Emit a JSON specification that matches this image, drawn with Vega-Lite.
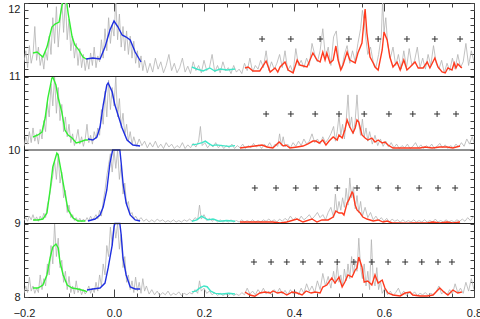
{
 "$schema": "https://vega.github.io/schema/vega-lite/v6.json",
 "width": 450, "height": 294,
 "autosize": {"type": "none"},
 "padding": {"left": 24, "top": 3, "right": 6, "bottom": 22},
 "background": "white",
 "config": {
  "view": {"stroke": "#222", "strokeWidth": 1},
  "axis": {"domain": false, "grid": false, "labelFont": "Liberation Sans", "labelFontSize": 11, "labelColor": "#222", "tickColor": "#444", "tickWidth": 1, "title": null, "labelOverlap": false}
 },
 "datasets": {
  "gray": [
{"p":1,"x":-0.2,"y":11.2},{"p":1,"x":-0.196,"y":11.35},{"p":1,"x":-0.192,"y":11.12},{"p":1,"x":-0.188,"y":11.42},{"p":1,"x":-0.184,"y":11.18},{"p":1,"x":-0.18,"y":11.3},{"p":1,"x":-0.176,"y":11.68},{"p":1,"x":-0.172,"y":11.22},{"p":1,"x":-0.168,"y":11.4},{"p":1,"x":-0.164,"y":11.15},{"p":1,"x":-0.16,"y":11.28},{"p":1,"x":-0.156,"y":11.1},{"p":1,"x":-0.152,"y":11.35},{"p":1,"x":-0.148,"y":11.22},{"p":1,"x":-0.144,"y":11.55},{"p":1,"x":-0.14,"y":11.3},{"p":1,"x":-0.136,"y":11.8},{"p":1,"x":-0.132,"y":11.45},{"p":1,"x":-0.128,"y":11.95},{"p":1,"x":-0.124,"y":11.4},{"p":1,"x":-0.12,"y":11.72},{"p":1,"x":-0.116,"y":12.05},{"p":1,"x":-0.112,"y":11.6},{"p":1,"x":-0.108,"y":12.05},{"p":1,"x":-0.104,"y":11.5},{"p":1,"x":-0.1,"y":11.78},{"p":1,"x":-0.096,"y":11.35},{"p":1,"x":-0.092,"y":11.55},{"p":1,"x":-0.088,"y":11.25},{"p":1,"x":-0.084,"y":11.45},{"p":1,"x":-0.08,"y":11.15},{"p":1,"x":-0.076,"y":11.38},{"p":1,"x":-0.072,"y":11.12},{"p":1,"x":-0.068,"y":11.3},{"p":1,"x":-0.064,"y":11.08},{"p":1,"x":-0.06,"y":11.25},{"p":1,"x":-0.056,"y":11.1},{"p":1,"x":-0.052,"y":11.32},{"p":1,"x":-0.048,"y":11.15},{"p":1,"x":-0.044,"y":11.4},{"p":1,"x":-0.04,"y":11.12},{"p":1,"x":-0.036,"y":11.28},{"p":1,"x":-0.032,"y":11.2},{"p":1,"x":-0.028,"y":11.5},{"p":1,"x":-0.024,"y":11.25},{"p":1,"x":-0.02,"y":11.65},{"p":1,"x":-0.016,"y":11.35},{"p":1,"x":-0.012,"y":11.8},{"p":1,"x":-0.008,"y":11.45},{"p":1,"x":-0.004,"y":11.7},{"p":1,"x":0,"y":11.55},{"p":1,"x":0.004,"y":12.05},{"p":1,"x":0.008,"y":11.5},{"p":1,"x":0.012,"y":11.85},{"p":1,"x":0.016,"y":11.4},{"p":1,"x":0.02,"y":11.68},{"p":1,"x":0.024,"y":11.35},{"p":1,"x":0.028,"y":11.62},{"p":1,"x":0.032,"y":11.3},{"p":1,"x":0.036,"y":11.55},{"p":1,"x":0.04,"y":11.25},{"p":1,"x":0.044,"y":11.48},{"p":1,"x":0.048,"y":11.18},{"p":1,"x":0.052,"y":11.35},{"p":1,"x":0.056,"y":11.12},{"p":1,"x":0.06,"y":11.28},{"p":1,"x":0.064,"y":11.08},{"p":1,"x":0.068,"y":11.22},{"p":1,"x":0.074,"y":11.05},{"p":1,"x":0.08,"y":11.18},{"p":1,"x":0.086,"y":11.06},{"p":1,"x":0.092,"y":11.25},{"p":1,"x":0.098,"y":11.1},{"p":1,"x":0.104,"y":11.2},{"p":1,"x":0.11,"y":11.05},{"p":1,"x":0.116,"y":11.15},{"p":1,"x":0.122,"y":11.3},{"p":1,"x":0.128,"y":11.08},{"p":1,"x":0.134,"y":11.18},{"p":1,"x":0.14,"y":11.05},{"p":1,"x":0.146,"y":11.12},{"p":1,"x":0.152,"y":11.25},{"p":1,"x":0.158,"y":11.06},{"p":1,"x":0.164,"y":11.14},{"p":1,"x":0.17,"y":11.04},{"p":1,"x":0.176,"y":11.2},{"p":1,"x":0.182,"y":11.08},{"p":1,"x":0.188,"y":11.15},{"p":1,"x":0.194,"y":11.05},{"p":1,"x":0.2,"y":11.22},{"p":1,"x":0.206,"y":11.08},{"p":1,"x":0.212,"y":11.12},{"p":1,"x":0.218,"y":11.3},{"p":1,"x":0.224,"y":11.06},{"p":1,"x":0.23,"y":11.15},{"p":1,"x":0.236,"y":11.05},{"p":1,"x":0.242,"y":11.2},{"p":1,"x":0.248,"y":11.08},{"p":1,"x":0.254,"y":11.12},{"p":1,"x":0.26,"y":11.04},{"p":1,"x":0.266,"y":11.15},{"p":1,"x":0.272,"y":11.06},{"p":1,"x":0.278,"y":11.1},{"p":1,"x":0.284,"y":11.04},{"p":1,"x":0.29,"y":11.18},{"p":1,"x":0.296,"y":11.08},{"p":1,"x":0.302,"y":11.25},{"p":1,"x":0.308,"y":11.06},{"p":1,"x":0.314,"y":11.15},{"p":1,"x":0.32,"y":11.1},{"p":1,"x":0.326,"y":11.22},{"p":1,"x":0.332,"y":11.12},{"p":1,"x":0.338,"y":11.35},{"p":1,"x":0.344,"y":11.08},{"p":1,"x":0.35,"y":11.2},{"p":1,"x":0.356,"y":11.1},{"p":1,"x":0.362,"y":11.18},{"p":1,"x":0.368,"y":11.3},{"p":1,"x":0.374,"y":11.12},{"p":1,"x":0.38,"y":11.35},{"p":1,"x":0.386,"y":11.08},{"p":1,"x":0.392,"y":11.15},{"p":1,"x":0.398,"y":11.05},{"p":1,"x":0.404,"y":11.38},{"p":1,"x":0.41,"y":11.15},{"p":1,"x":0.416,"y":11.22},{"p":1,"x":0.422,"y":11.12},{"p":1,"x":0.428,"y":11.25},{"p":1,"x":0.434,"y":11.15},{"p":1,"x":0.44,"y":11.45},{"p":1,"x":0.446,"y":11.3},{"p":1,"x":0.452,"y":11.2},{"p":1,"x":0.458,"y":11.35},{"p":1,"x":0.464,"y":11.65},{"p":1,"x":0.47,"y":11.25},{"p":1,"x":0.476,"y":11.4},{"p":1,"x":0.482,"y":11.15},{"p":1,"x":0.488,"y":11.54},{"p":1,"x":0.494,"y":11.62},{"p":1,"x":0.5,"y":11.2},{"p":1,"x":0.506,"y":11.1},{"p":1,"x":0.512,"y":11.3},{"p":1,"x":0.518,"y":11.42},{"p":1,"x":0.524,"y":11.18},{"p":1,"x":0.53,"y":11.35},{"p":1,"x":0.536,"y":11.2},{"p":1,"x":0.542,"y":11.45},{"p":1,"x":0.548,"y":11.65},{"p":1,"x":0.552,"y":11.9},{"p":1,"x":0.556,"y":11.75},{"p":1,"x":0.56,"y":11.5},{"p":1,"x":0.564,"y":11.3},{"p":1,"x":0.57,"y":11.4},{"p":1,"x":0.576,"y":11.2},{"p":1,"x":0.582,"y":11.12},{"p":1,"x":0.588,"y":11.3},{"p":1,"x":0.594,"y":11.55},{"p":1,"x":0.597,"y":12.05},{"p":1,"x":0.6,"y":11.6},{"p":1,"x":0.604,"y":11.8},{"p":1,"x":0.608,"y":11.45},{"p":1,"x":0.614,"y":11.25},{"p":1,"x":0.62,"y":11.4},{"p":1,"x":0.626,"y":11.15},{"p":1,"x":0.632,"y":11.3},{"p":1,"x":0.638,"y":11.1},{"p":1,"x":0.644,"y":11.35},{"p":1,"x":0.65,"y":11.12},{"p":1,"x":0.656,"y":11.38},{"p":1,"x":0.662,"y":11.15},{"p":1,"x":0.668,"y":11.22},{"p":1,"x":0.674,"y":11.4},{"p":1,"x":0.68,"y":11.12},{"p":1,"x":0.686,"y":11.25},{"p":1,"x":0.692,"y":11.1},{"p":1,"x":0.698,"y":11.3},{"p":1,"x":0.704,"y":11.15},{"p":1,"x":0.71,"y":11.42},{"p":1,"x":0.716,"y":11.18},{"p":1,"x":0.722,"y":11.1},{"p":1,"x":0.728,"y":11.22},{"p":1,"x":0.734,"y":11.05},{"p":1,"x":0.74,"y":11.18},{"p":1,"x":0.746,"y":11.08},{"p":1,"x":0.752,"y":11.25},{"p":1,"x":0.758,"y":11.1},{"p":1,"x":0.764,"y":11.3},{"p":1,"x":0.77,"y":11.12},{"p":1,"x":0.776,"y":11.2},{"p":1,"x":0.782,"y":11.45},{"p":1,"x":0.788,"y":11.15},{"p":1,"x":0.794,"y":11.35},{"p":1,"x":0.8,"y":11.2},

{"p":2,"x":-0.2,"y":10.05},{"p":2,"x":-0.196,"y":10.18},{"p":2,"x":-0.192,"y":10.08},{"p":2,"x":-0.188,"y":10.25},{"p":2,"x":-0.184,"y":10.1},{"p":2,"x":-0.18,"y":10.3},{"p":2,"x":-0.176,"y":10.12},{"p":2,"x":-0.172,"y":10.22},{"p":2,"x":-0.168,"y":10.08},{"p":2,"x":-0.164,"y":10.28},{"p":2,"x":-0.16,"y":10.15},{"p":2,"x":-0.156,"y":10.4},{"p":2,"x":-0.152,"y":10.25},{"p":2,"x":-0.148,"y":10.65},{"p":2,"x":-0.144,"y":10.45},{"p":2,"x":-0.14,"y":10.9},{"p":2,"x":-0.136,"y":10.6},{"p":2,"x":-0.132,"y":11.0},{"p":2,"x":-0.128,"y":10.5},{"p":2,"x":-0.124,"y":10.85},{"p":2,"x":-0.12,"y":10.4},{"p":2,"x":-0.116,"y":10.62},{"p":2,"x":-0.112,"y":10.25},{"p":2,"x":-0.108,"y":10.45},{"p":2,"x":-0.104,"y":10.18},{"p":2,"x":-0.1,"y":10.35},{"p":2,"x":-0.096,"y":10.1},{"p":2,"x":-0.092,"y":10.22},{"p":2,"x":-0.088,"y":10.06},{"p":2,"x":-0.084,"y":10.15},{"p":2,"x":-0.08,"y":10.28},{"p":2,"x":-0.076,"y":10.08},{"p":2,"x":-0.072,"y":10.18},{"p":2,"x":-0.068,"y":10.05},{"p":2,"x":-0.064,"y":10.15},{"p":2,"x":-0.06,"y":10.35},{"p":2,"x":-0.056,"y":10.1},{"p":2,"x":-0.052,"y":10.2},{"p":2,"x":-0.048,"y":10.08},{"p":2,"x":-0.044,"y":10.25},{"p":2,"x":-0.04,"y":10.15},{"p":2,"x":-0.036,"y":10.3},{"p":2,"x":-0.032,"y":10.2},{"p":2,"x":-0.028,"y":10.55},{"p":2,"x":-0.024,"y":10.35},{"p":2,"x":-0.02,"y":10.8},{"p":2,"x":-0.016,"y":10.45},{"p":2,"x":-0.012,"y":10.95},{"p":2,"x":-0.008,"y":10.55},{"p":2,"x":-0.004,"y":10.85},{"p":2,"x":0,"y":10.6},{"p":2,"x":0.004,"y":11.0},{"p":2,"x":0.008,"y":10.45},{"p":2,"x":0.012,"y":10.7},{"p":2,"x":0.016,"y":10.3},{"p":2,"x":0.02,"y":10.5},{"p":2,"x":0.024,"y":10.2},{"p":2,"x":0.028,"y":10.35},{"p":2,"x":0.032,"y":10.12},{"p":2,"x":0.036,"y":10.25},{"p":2,"x":0.04,"y":10.08},{"p":2,"x":0.044,"y":10.18},{"p":2,"x":0.05,"y":10.05},{"p":2,"x":0.056,"y":10.15},{"p":2,"x":0.062,"y":10.06},{"p":2,"x":0.068,"y":10.12},{"p":2,"x":0.074,"y":10.03},{"p":2,"x":0.08,"y":10.1},{"p":2,"x":0.086,"y":10.04},{"p":2,"x":0.092,"y":10.12},{"p":2,"x":0.098,"y":10.03},{"p":2,"x":0.104,"y":10.08},{"p":2,"x":0.11,"y":10.02},{"p":2,"x":0.116,"y":10.1},{"p":2,"x":0.122,"y":10.04},{"p":2,"x":0.128,"y":10.08},{"p":2,"x":0.134,"y":10.02},{"p":2,"x":0.14,"y":10.06},{"p":2,"x":0.146,"y":10.03},{"p":2,"x":0.152,"y":10.1},{"p":2,"x":0.158,"y":10.02},{"p":2,"x":0.164,"y":10.07},{"p":2,"x":0.17,"y":10.03},{"p":2,"x":0.176,"y":10.09},{"p":2,"x":0.182,"y":10.04},{"p":2,"x":0.188,"y":10.12},{"p":2,"x":0.192,"y":10.32},{"p":2,"x":0.196,"y":10.06},{"p":2,"x":0.202,"y":10.1},{"p":2,"x":0.208,"y":10.03},{"p":2,"x":0.214,"y":10.08},{"p":2,"x":0.22,"y":10.04},{"p":2,"x":0.226,"y":10.1},{"p":2,"x":0.232,"y":10.03},{"p":2,"x":0.238,"y":10.07},{"p":2,"x":0.244,"y":10.02},{"p":2,"x":0.25,"y":10.06},{"p":2,"x":0.256,"y":10.03},{"p":2,"x":0.262,"y":10.08},{"p":2,"x":0.268,"y":10.02},{"p":2,"x":0.274,"y":10.06},{"p":2,"x":0.28,"y":10.03},{"p":2,"x":0.286,"y":10.08},{"p":2,"x":0.292,"y":10.02},{"p":2,"x":0.298,"y":10.06},{"p":2,"x":0.304,"y":10.03},{"p":2,"x":0.31,"y":10.09},{"p":2,"x":0.316,"y":10.04},{"p":2,"x":0.322,"y":10.07},{"p":2,"x":0.328,"y":10.02},{"p":2,"x":0.334,"y":10.08},{"p":2,"x":0.34,"y":10.04},{"p":2,"x":0.346,"y":10.1},{"p":2,"x":0.352,"y":10.03},{"p":2,"x":0.358,"y":10.08},{"p":2,"x":0.364,"y":10.05},{"p":2,"x":0.368,"y":10.22},{"p":2,"x":0.372,"y":10.06},{"p":2,"x":0.376,"y":10.18},{"p":2,"x":0.38,"y":10.04},{"p":2,"x":0.386,"y":10.08},{"p":2,"x":0.392,"y":10.03},{"p":2,"x":0.398,"y":10.1},{"p":2,"x":0.404,"y":10.05},{"p":2,"x":0.41,"y":10.12},{"p":2,"x":0.416,"y":10.06},{"p":2,"x":0.422,"y":10.15},{"p":2,"x":0.428,"y":10.08},{"p":2,"x":0.434,"y":10.12},{"p":2,"x":0.44,"y":10.22},{"p":2,"x":0.446,"y":10.1},{"p":2,"x":0.452,"y":10.15},{"p":2,"x":0.458,"y":10.08},{"p":2,"x":0.464,"y":10.18},{"p":2,"x":0.47,"y":10.1},{"p":2,"x":0.476,"y":10.15},{"p":2,"x":0.482,"y":10.22},{"p":2,"x":0.488,"y":10.32},{"p":2,"x":0.492,"y":10.12},{"p":2,"x":0.496,"y":10.25},{"p":2,"x":0.5,"y":10.47},{"p":2,"x":0.504,"y":10.2},{"p":2,"x":0.508,"y":10.35},{"p":2,"x":0.512,"y":10.15},{"p":2,"x":0.516,"y":10.4},{"p":2,"x":0.52,"y":10.75},{"p":2,"x":0.524,"y":10.3},{"p":2,"x":0.528,"y":10.45},{"p":2,"x":0.532,"y":10.22},{"p":2,"x":0.536,"y":10.4},{"p":2,"x":0.54,"y":10.75},{"p":2,"x":0.544,"y":10.35},{"p":2,"x":0.548,"y":10.2},{"p":2,"x":0.552,"y":10.42},{"p":2,"x":0.556,"y":10.18},{"p":2,"x":0.56,"y":10.3},{"p":2,"x":0.564,"y":10.12},{"p":2,"x":0.568,"y":10.25},{"p":2,"x":0.574,"y":10.08},{"p":2,"x":0.58,"y":10.2},{"p":2,"x":0.586,"y":10.06},{"p":2,"x":0.592,"y":10.15},{"p":2,"x":0.598,"y":10.05},{"p":2,"x":0.604,"y":10.12},{"p":2,"x":0.61,"y":10.04},{"p":2,"x":0.616,"y":10.1},{"p":2,"x":0.622,"y":10.03},{"p":2,"x":0.628,"y":10.08},{"p":2,"x":0.634,"y":10.02},{"p":2,"x":0.64,"y":10.06},{"p":2,"x":0.646,"y":10.03},{"p":2,"x":0.652,"y":10.08},{"p":2,"x":0.658,"y":10.02},{"p":2,"x":0.664,"y":10.05},{"p":2,"x":0.67,"y":10.1},{"p":2,"x":0.676,"y":10.03},{"p":2,"x":0.682,"y":10.07},{"p":2,"x":0.688,"y":10.02},{"p":2,"x":0.694,"y":10.06},{"p":2,"x":0.7,"y":10.03},{"p":2,"x":0.706,"y":10.08},{"p":2,"x":0.712,"y":10.02},{"p":2,"x":0.718,"y":10.05},{"p":2,"x":0.724,"y":10.09},{"p":2,"x":0.73,"y":10.03},{"p":2,"x":0.736,"y":10.07},{"p":2,"x":0.742,"y":10.02},{"p":2,"x":0.748,"y":10.06},{"p":2,"x":0.754,"y":10.03},{"p":2,"x":0.76,"y":10.08},{"p":2,"x":0.766,"y":10.04},{"p":2,"x":0.772,"y":10.1},{"p":2,"x":0.778,"y":10.05},{"p":2,"x":0.784,"y":10.15},{"p":2,"x":0.79,"y":10.08},{"p":2,"x":0.796,"y":10.18},{"p":2,"x":0.8,"y":10.1},

{"p":3,"x":-0.2,"y":9.04},{"p":3,"x":-0.196,"y":9.08},{"p":3,"x":-0.192,"y":9.03},{"p":3,"x":-0.188,"y":9.1},{"p":3,"x":-0.184,"y":9.05},{"p":3,"x":-0.18,"y":9.12},{"p":3,"x":-0.176,"y":9.04},{"p":3,"x":-0.172,"y":9.09},{"p":3,"x":-0.168,"y":9.03},{"p":3,"x":-0.164,"y":9.1},{"p":3,"x":-0.16,"y":9.05},{"p":3,"x":-0.156,"y":9.14},{"p":3,"x":-0.152,"y":9.08},{"p":3,"x":-0.148,"y":9.25},{"p":3,"x":-0.144,"y":9.35},{"p":3,"x":-0.14,"y":9.5},{"p":3,"x":-0.136,"y":9.65},{"p":3,"x":-0.132,"y":9.85},{"p":3,"x":-0.128,"y":9.6},{"p":3,"x":-0.124,"y":9.95},{"p":3,"x":-0.12,"y":9.55},{"p":3,"x":-0.116,"y":9.7},{"p":3,"x":-0.112,"y":9.35},{"p":3,"x":-0.108,"y":9.45},{"p":3,"x":-0.104,"y":9.15},{"p":3,"x":-0.1,"y":9.25},{"p":3,"x":-0.096,"y":9.08},{"p":3,"x":-0.092,"y":9.12},{"p":3,"x":-0.088,"y":9.04},{"p":3,"x":-0.084,"y":9.08},{"p":3,"x":-0.08,"y":9.03},{"p":3,"x":-0.076,"y":9.07},{"p":3,"x":-0.072,"y":9.02},{"p":3,"x":-0.068,"y":9.06},{"p":3,"x":-0.064,"y":9.03},{"p":3,"x":-0.06,"y":9.08},{"p":3,"x":-0.056,"y":9.04},{"p":3,"x":-0.052,"y":9.1},{"p":3,"x":-0.048,"y":9.05},{"p":3,"x":-0.044,"y":9.08},{"p":3,"x":-0.04,"y":9.12},{"p":3,"x":-0.036,"y":9.06},{"p":3,"x":-0.032,"y":9.18},{"p":3,"x":-0.028,"y":9.1},{"p":3,"x":-0.024,"y":9.3},{"p":3,"x":-0.02,"y":9.45},{"p":3,"x":-0.016,"y":9.65},{"p":3,"x":-0.012,"y":9.8},{"p":3,"x":-0.008,"y":9.95},{"p":3,"x":-0.004,"y":9.7},{"p":3,"x":0,"y":10.0},{"p":3,"x":0.004,"y":9.75},{"p":3,"x":0.008,"y":10.0},{"p":3,"x":0.012,"y":9.6},{"p":3,"x":0.016,"y":9.8},{"p":3,"x":0.02,"y":9.4},{"p":3,"x":0.024,"y":9.55},{"p":3,"x":0.028,"y":9.25},{"p":3,"x":0.032,"y":9.3},{"p":3,"x":0.036,"y":9.12},{"p":3,"x":0.04,"y":9.15},{"p":3,"x":0.044,"y":9.06},{"p":3,"x":0.048,"y":9.1},{"p":3,"x":0.054,"y":9.04},{"p":3,"x":0.06,"y":9.08},{"p":3,"x":0.066,"y":9.03},{"p":3,"x":0.072,"y":9.06},{"p":3,"x":0.078,"y":9.02},{"p":3,"x":0.084,"y":9.05},{"p":3,"x":0.09,"y":9.02},{"p":3,"x":0.096,"y":9.06},{"p":3,"x":0.102,"y":9.03},{"p":3,"x":0.108,"y":9.05},{"p":3,"x":0.114,"y":9.02},{"p":3,"x":0.12,"y":9.04},{"p":3,"x":0.126,"y":9.02},{"p":3,"x":0.132,"y":9.05},{"p":3,"x":0.138,"y":9.02},{"p":3,"x":0.144,"y":9.04},{"p":3,"x":0.15,"y":9.02},{"p":3,"x":0.156,"y":9.05},{"p":3,"x":0.162,"y":9.03},{"p":3,"x":0.168,"y":9.06},{"p":3,"x":0.174,"y":9.03},{"p":3,"x":0.18,"y":9.08},{"p":3,"x":0.186,"y":9.05},{"p":3,"x":0.19,"y":9.25},{"p":3,"x":0.194,"y":9.06},{"p":3,"x":0.2,"y":9.12},{"p":3,"x":0.206,"y":9.04},{"p":3,"x":0.212,"y":9.07},{"p":3,"x":0.218,"y":9.03},{"p":3,"x":0.224,"y":9.06},{"p":3,"x":0.23,"y":9.02},{"p":3,"x":0.236,"y":9.05},{"p":3,"x":0.242,"y":9.02},{"p":3,"x":0.248,"y":9.04},{"p":3,"x":0.254,"y":9.02},{"p":3,"x":0.26,"y":9.05},{"p":3,"x":0.266,"y":9.02},{"p":3,"x":0.272,"y":9.04},{"p":3,"x":0.278,"y":9.02},{"p":3,"x":0.284,"y":9.05},{"p":3,"x":0.29,"y":9.02},{"p":3,"x":0.296,"y":9.04},{"p":3,"x":0.302,"y":9.02},{"p":3,"x":0.308,"y":9.05},{"p":3,"x":0.314,"y":9.02},{"p":3,"x":0.32,"y":9.04},{"p":3,"x":0.326,"y":9.02},{"p":3,"x":0.332,"y":9.05},{"p":3,"x":0.338,"y":9.03},{"p":3,"x":0.344,"y":9.06},{"p":3,"x":0.35,"y":9.03},{"p":3,"x":0.356,"y":9.05},{"p":3,"x":0.362,"y":9.02},{"p":3,"x":0.368,"y":9.06},{"p":3,"x":0.374,"y":9.03},{"p":3,"x":0.38,"y":9.07},{"p":3,"x":0.386,"y":9.04},{"p":3,"x":0.392,"y":9.1},{"p":3,"x":0.398,"y":9.05},{"p":3,"x":0.404,"y":9.08},{"p":3,"x":0.41,"y":9.04},{"p":3,"x":0.416,"y":9.1},{"p":3,"x":0.422,"y":9.05},{"p":3,"x":0.428,"y":9.08},{"p":3,"x":0.434,"y":9.12},{"p":3,"x":0.44,"y":9.06},{"p":3,"x":0.446,"y":9.1},{"p":3,"x":0.452,"y":9.15},{"p":3,"x":0.458,"y":9.08},{"p":3,"x":0.464,"y":9.12},{"p":3,"x":0.47,"y":9.05},{"p":3,"x":0.476,"y":9.15},{"p":3,"x":0.482,"y":9.22},{"p":3,"x":0.488,"y":9.08},{"p":3,"x":0.492,"y":9.4},{"p":3,"x":0.496,"y":9.15},{"p":3,"x":0.5,"y":9.3},{"p":3,"x":0.504,"y":9.18},{"p":3,"x":0.508,"y":9.35},{"p":3,"x":0.512,"y":9.22},{"p":3,"x":0.516,"y":9.48},{"p":3,"x":0.52,"y":9.25},{"p":3,"x":0.524,"y":9.62},{"p":3,"x":0.528,"y":9.35},{"p":3,"x":0.532,"y":9.5},{"p":3,"x":0.536,"y":9.2},{"p":3,"x":0.54,"y":9.38},{"p":3,"x":0.544,"y":9.15},{"p":3,"x":0.548,"y":9.3},{"p":3,"x":0.552,"y":9.1},{"p":3,"x":0.558,"y":9.22},{"p":3,"x":0.564,"y":9.08},{"p":3,"x":0.57,"y":9.15},{"p":3,"x":0.576,"y":9.05},{"p":3,"x":0.582,"y":9.1},{"p":3,"x":0.588,"y":9.04},{"p":3,"x":0.594,"y":9.08},{"p":3,"x":0.6,"y":9.03},{"p":3,"x":0.606,"y":9.07},{"p":3,"x":0.612,"y":9.02},{"p":3,"x":0.618,"y":9.06},{"p":3,"x":0.624,"y":9.03},{"p":3,"x":0.63,"y":9.05},{"p":3,"x":0.636,"y":9.02},{"p":3,"x":0.642,"y":9.05},{"p":3,"x":0.648,"y":9.02},{"p":3,"x":0.654,"y":9.04},{"p":3,"x":0.66,"y":9.02},{"p":3,"x":0.666,"y":9.05},{"p":3,"x":0.672,"y":9.02},{"p":3,"x":0.678,"y":9.04},{"p":3,"x":0.684,"y":9.02},{"p":3,"x":0.69,"y":9.05},{"p":3,"x":0.696,"y":9.02},{"p":3,"x":0.702,"y":9.04},{"p":3,"x":0.708,"y":9.02},{"p":3,"x":0.714,"y":9.06},{"p":3,"x":0.72,"y":9.02},{"p":3,"x":0.726,"y":9.04},{"p":3,"x":0.732,"y":9.02},{"p":3,"x":0.738,"y":9.05},{"p":3,"x":0.744,"y":9.02},{"p":3,"x":0.75,"y":9.04},{"p":3,"x":0.756,"y":9.02},{"p":3,"x":0.762,"y":9.05},{"p":3,"x":0.768,"y":9.03},{"p":3,"x":0.774,"y":9.06},{"p":3,"x":0.78,"y":9.03},{"p":3,"x":0.786,"y":9.08},{"p":3,"x":0.792,"y":9.04},{"p":3,"x":0.8,"y":9.1},

{"p":4,"x":-0.2,"y":8.05},{"p":4,"x":-0.196,"y":8.15},{"p":4,"x":-0.192,"y":8.06},{"p":4,"x":-0.188,"y":8.27},{"p":4,"x":-0.184,"y":8.08},{"p":4,"x":-0.18,"y":8.15},{"p":4,"x":-0.176,"y":8.05},{"p":4,"x":-0.172,"y":8.12},{"p":4,"x":-0.168,"y":8.06},{"p":4,"x":-0.164,"y":8.3},{"p":4,"x":-0.16,"y":8.1},{"p":4,"x":-0.156,"y":8.25},{"p":4,"x":-0.152,"y":8.15},{"p":4,"x":-0.148,"y":8.45},{"p":4,"x":-0.144,"y":8.3},{"p":4,"x":-0.14,"y":8.7},{"p":4,"x":-0.136,"y":8.45},{"p":4,"x":-0.132,"y":9.0},{"p":4,"x":-0.128,"y":8.55},{"p":4,"x":-0.124,"y":8.8},{"p":4,"x":-0.12,"y":8.4},{"p":4,"x":-0.116,"y":8.5},{"p":4,"x":-0.112,"y":8.2},{"p":4,"x":-0.108,"y":8.35},{"p":4,"x":-0.104,"y":8.1},{"p":4,"x":-0.1,"y":8.28},{"p":4,"x":-0.096,"y":8.06},{"p":4,"x":-0.092,"y":8.15},{"p":4,"x":-0.088,"y":8.04},{"p":4,"x":-0.084,"y":8.22},{"p":4,"x":-0.08,"y":8.06},{"p":4,"x":-0.076,"y":8.12},{"p":4,"x":-0.072,"y":8.03},{"p":4,"x":-0.068,"y":8.1},{"p":4,"x":-0.064,"y":8.04},{"p":4,"x":-0.06,"y":8.08},{"p":4,"x":-0.056,"y":8.15},{"p":4,"x":-0.052,"y":8.05},{"p":4,"x":-0.048,"y":8.12},{"p":4,"x":-0.044,"y":8.06},{"p":4,"x":-0.04,"y":8.2},{"p":4,"x":-0.036,"y":8.08},{"p":4,"x":-0.032,"y":8.3},{"p":4,"x":-0.028,"y":8.15},{"p":4,"x":-0.024,"y":8.45},{"p":4,"x":-0.02,"y":8.3},{"p":4,"x":-0.016,"y":8.7},{"p":4,"x":-0.012,"y":8.55},{"p":4,"x":-0.008,"y":8.95},{"p":4,"x":-0.004,"y":8.7},{"p":4,"x":0,"y":9.0},{"p":4,"x":0.004,"y":8.8},{"p":4,"x":0.008,"y":9.0},{"p":4,"x":0.012,"y":8.65},{"p":4,"x":0.016,"y":8.85},{"p":4,"x":0.02,"y":8.4},{"p":4,"x":0.024,"y":8.55},{"p":4,"x":0.028,"y":8.2},{"p":4,"x":0.032,"y":8.3},{"p":4,"x":0.036,"y":8.1},{"p":4,"x":0.04,"y":8.22},{"p":4,"x":0.044,"y":8.06},{"p":4,"x":0.048,"y":8.27},{"p":4,"x":0.052,"y":8.08},{"p":4,"x":0.056,"y":8.2},{"p":4,"x":0.06,"y":8.05},{"p":4,"x":0.064,"y":8.25},{"p":4,"x":0.068,"y":8.08},{"p":4,"x":0.072,"y":8.15},{"p":4,"x":0.078,"y":8.04},{"p":4,"x":0.084,"y":8.1},{"p":4,"x":0.09,"y":8.03},{"p":4,"x":0.096,"y":8.08},{"p":4,"x":0.102,"y":8.02},{"p":4,"x":0.108,"y":8.06},{"p":4,"x":0.114,"y":8.03},{"p":4,"x":0.12,"y":8.08},{"p":4,"x":0.126,"y":8.02},{"p":4,"x":0.132,"y":8.05},{"p":4,"x":0.138,"y":8.03},{"p":4,"x":0.144,"y":8.07},{"p":4,"x":0.15,"y":8.02},{"p":4,"x":0.156,"y":8.05},{"p":4,"x":0.162,"y":8.03},{"p":4,"x":0.168,"y":8.06},{"p":4,"x":0.174,"y":8.04},{"p":4,"x":0.18,"y":8.1},{"p":4,"x":0.186,"y":8.05},{"p":4,"x":0.19,"y":8.22},{"p":4,"x":0.194,"y":8.08},{"p":4,"x":0.2,"y":8.12},{"p":4,"x":0.206,"y":8.05},{"p":4,"x":0.212,"y":8.08},{"p":4,"x":0.218,"y":8.03},{"p":4,"x":0.224,"y":8.06},{"p":4,"x":0.23,"y":8.02},{"p":4,"x":0.236,"y":8.05},{"p":4,"x":0.242,"y":8.02},{"p":4,"x":0.248,"y":8.04},{"p":4,"x":0.254,"y":8.02},{"p":4,"x":0.26,"y":8.05},{"p":4,"x":0.266,"y":8.02},{"p":4,"x":0.272,"y":8.04},{"p":4,"x":0.278,"y":8.02},{"p":4,"x":0.284,"y":8.06},{"p":4,"x":0.29,"y":8.03},{"p":4,"x":0.296,"y":8.12},{"p":4,"x":0.302,"y":8.04},{"p":4,"x":0.308,"y":8.08},{"p":4,"x":0.314,"y":8.03},{"p":4,"x":0.32,"y":8.1},{"p":4,"x":0.326,"y":8.05},{"p":4,"x":0.332,"y":8.12},{"p":4,"x":0.338,"y":8.04},{"p":4,"x":0.344,"y":8.08},{"p":4,"x":0.35,"y":8.03},{"p":4,"x":0.356,"y":8.1},{"p":4,"x":0.362,"y":8.05},{"p":4,"x":0.368,"y":8.12},{"p":4,"x":0.374,"y":8.04},{"p":4,"x":0.38,"y":8.09},{"p":4,"x":0.386,"y":8.03},{"p":4,"x":0.392,"y":8.1},{"p":4,"x":0.398,"y":8.04},{"p":4,"x":0.404,"y":8.08},{"p":4,"x":0.41,"y":8.03},{"p":4,"x":0.416,"y":8.12},{"p":4,"x":0.422,"y":8.05},{"p":4,"x":0.428,"y":8.18},{"p":4,"x":0.434,"y":8.08},{"p":4,"x":0.44,"y":8.15},{"p":4,"x":0.446,"y":8.06},{"p":4,"x":0.452,"y":8.22},{"p":4,"x":0.458,"y":8.1},{"p":4,"x":0.464,"y":8.32},{"p":4,"x":0.47,"y":8.15},{"p":4,"x":0.476,"y":8.28},{"p":4,"x":0.482,"y":8.12},{"p":4,"x":0.488,"y":8.35},{"p":4,"x":0.492,"y":8.18},{"p":4,"x":0.496,"y":8.45},{"p":4,"x":0.5,"y":8.2},{"p":4,"x":0.504,"y":8.3},{"p":4,"x":0.508,"y":8.15},{"p":4,"x":0.512,"y":8.38},{"p":4,"x":0.516,"y":8.22},{"p":4,"x":0.52,"y":8.45},{"p":4,"x":0.524,"y":8.25},{"p":4,"x":0.528,"y":8.55},{"p":4,"x":0.532,"y":8.3},{"p":4,"x":0.536,"y":8.5},{"p":4,"x":0.54,"y":8.35},{"p":4,"x":0.544,"y":8.8},{"p":4,"x":0.548,"y":8.4},{"p":4,"x":0.552,"y":8.25},{"p":4,"x":0.556,"y":8.45},{"p":4,"x":0.56,"y":8.15},{"p":4,"x":0.564,"y":8.35},{"p":4,"x":0.568,"y":8.1},{"p":4,"x":0.572,"y":8.78},{"p":4,"x":0.576,"y":8.25},{"p":4,"x":0.58,"y":8.15},{"p":4,"x":0.584,"y":8.4},{"p":4,"x":0.588,"y":8.1},{"p":4,"x":0.592,"y":8.22},{"p":4,"x":0.596,"y":8.05},{"p":4,"x":0.602,"y":8.12},{"p":4,"x":0.608,"y":8.03},{"p":4,"x":0.614,"y":8.08},{"p":4,"x":0.62,"y":8.02},{"p":4,"x":0.626,"y":8.06},{"p":4,"x":0.632,"y":8.12},{"p":4,"x":0.638,"y":8.03},{"p":4,"x":0.644,"y":8.08},{"p":4,"x":0.65,"y":8.02},{"p":4,"x":0.656,"y":8.06},{"p":4,"x":0.662,"y":8.03},{"p":4,"x":0.668,"y":8.07},{"p":4,"x":0.674,"y":8.02},{"p":4,"x":0.68,"y":8.05},{"p":4,"x":0.686,"y":8.03},{"p":4,"x":0.692,"y":8.06},{"p":4,"x":0.698,"y":8.02},{"p":4,"x":0.704,"y":8.05},{"p":4,"x":0.71,"y":8.03},{"p":4,"x":0.716,"y":8.07},{"p":4,"x":0.722,"y":8.15},{"p":4,"x":0.728,"y":8.04},{"p":4,"x":0.734,"y":8.08},{"p":4,"x":0.74,"y":8.03},{"p":4,"x":0.746,"y":8.1},{"p":4,"x":0.752,"y":8.04},{"p":4,"x":0.758,"y":8.18},{"p":4,"x":0.764,"y":8.06},{"p":4,"x":0.77,"y":8.12},{"p":4,"x":0.776,"y":8.05},{"p":4,"x":0.782,"y":8.2},{"p":4,"x":0.788,"y":8.08},{"p":4,"x":0.794,"y":8.25},{"p":4,"x":0.8,"y":8.1}
  ],
  "curves": [
{"c":"g","p":1,"x":-0.18,"y":11.32},{"c":"g","p":1,"x":-0.171,"y":11.333},{"c":"g","p":1,"x":-0.158,"y":11.265},{"c":"g","p":1,"x":-0.149,"y":11.4},{"c":"g","p":1,"x":-0.138,"y":11.673},{"c":"g","p":1,"x":-0.131,"y":11.714},{"c":"g","p":1,"x":-0.122,"y":11.74},{"c":"g","p":1,"x":-0.116,"y":11.95},{"c":"g","p":1,"x":-0.112,"y":12.05},{"c":"g","p":1,"x":-0.106,"y":12.05},{"c":"g","p":1,"x":-0.102,"y":11.864},{"c":"g","p":1,"x":-0.093,"y":11.537},{"c":"g","p":1,"x":-0.087,"y":11.43},{"c":"g","p":1,"x":-0.078,"y":11.36},{"c":"g","p":1,"x":-0.069,"y":11.265},{"c":"g","p":1,"x":-0.062,"y":11.238},
{"c":"b","p":1,"x":-0.062,"y":11.238},{"c":"b","p":1,"x":-0.047,"y":11.252},{"c":"b","p":1,"x":-0.031,"y":11.238},{"c":"b","p":1,"x":-0.02,"y":11.4},{"c":"b","p":1,"x":-0.009,"y":11.633},{"c":"b","p":1,"x":0,"y":11.755},{"c":"b","p":1,"x":0.009,"y":11.673},{"c":"b","p":1,"x":0.018,"y":11.565},{"c":"b","p":1,"x":0.027,"y":11.537},{"c":"b","p":1,"x":0.036,"y":11.497},{"c":"b","p":1,"x":0.047,"y":11.333},{"c":"b","p":1,"x":0.06,"y":11.197},
{"c":"c","p":1,"x":0.173,"y":11.129},{"c":"c","p":1,"x":0.184,"y":11.102},{"c":"c","p":1,"x":0.198,"y":11.075},{"c":"c","p":1,"x":0.213,"y":11.116},{"c":"c","p":1,"x":0.224,"y":11.075},{"c":"c","p":1,"x":0.236,"y":11.102},{"c":"c","p":1,"x":0.251,"y":11.088},{"c":"c","p":1,"x":0.269,"y":11.102},
{"c":"r","p":1,"x":0.291,"y":11.116},{"c":"r","p":1,"x":0.298,"y":11.129},{"c":"r","p":1,"x":0.309,"y":11.075},{"c":"r","p":1,"x":0.324,"y":11.075},{"c":"r","p":1,"x":0.338,"y":11.211},{"c":"r","p":1,"x":0.347,"y":11.061},{"c":"r","p":1,"x":0.358,"y":11.116},{"c":"r","p":1,"x":0.364,"y":11.061},{"c":"r","p":1,"x":0.369,"y":11.129},{"c":"r","p":1,"x":0.38,"y":11.197},{"c":"r","p":1,"x":0.387,"y":11.088},{"c":"r","p":1,"x":0.398,"y":11.048},{"c":"r","p":1,"x":0.407,"y":11.224},{"c":"r","p":1,"x":0.413,"y":11.156},{"c":"r","p":1,"x":0.429,"y":11.129},{"c":"r","p":1,"x":0.442,"y":11.32},{"c":"r","p":1,"x":0.451,"y":11.224},{"c":"r","p":1,"x":0.458,"y":11.197},{"c":"r","p":1,"x":0.464,"y":11.333},{"c":"r","p":1,"x":0.469,"y":11.224},{"c":"r","p":1,"x":0.473,"y":11.32},{"c":"r","p":1,"x":0.48,"y":11.184},{"c":"r","p":1,"x":0.487,"y":11.224},{"c":"r","p":1,"x":0.493,"y":11.415},{"c":"r","p":1,"x":0.498,"y":11.224},{"c":"r","p":1,"x":0.504,"y":11.088},{"c":"r","p":1,"x":0.509,"y":11.156},{"c":"r","p":1,"x":0.518,"y":11.333},{"c":"r","p":1,"x":0.524,"y":11.224},{"c":"r","p":1,"x":0.536,"y":11.184},{"c":"r","p":1,"x":0.542,"y":11.32},{"c":"r","p":1,"x":0.551,"y":11.456},{"c":"r","p":1,"x":0.558,"y":11.918},{"c":"r","p":1,"x":0.562,"y":11.592},{"c":"r","p":1,"x":0.569,"y":11.265},{"c":"r","p":1,"x":0.576,"y":11.184},{"c":"r","p":1,"x":0.58,"y":11.129},{"c":"r","p":1,"x":0.587,"y":11.088},{"c":"r","p":1,"x":0.596,"y":11.361},{"c":"r","p":1,"x":0.6,"y":11.605},{"c":"r","p":1,"x":0.607,"y":11.497},{"c":"r","p":1,"x":0.613,"y":11.265},{"c":"r","p":1,"x":0.62,"y":11.129},{"c":"r","p":1,"x":0.629,"y":11.197},{"c":"r","p":1,"x":0.636,"y":11.088},{"c":"r","p":1,"x":0.644,"y":11.224},{"c":"r","p":1,"x":0.651,"y":11.088},{"c":"r","p":1,"x":0.658,"y":11.129},{"c":"r","p":1,"x":0.669,"y":11.197},{"c":"r","p":1,"x":0.676,"y":11.116},{"c":"r","p":1,"x":0.687,"y":11.116},{"c":"r","p":1,"x":0.696,"y":11.197},{"c":"r","p":1,"x":0.702,"y":11.116},{"c":"r","p":1,"x":0.713,"y":11.252},{"c":"r","p":1,"x":0.72,"y":11.129},{"c":"r","p":1,"x":0.729,"y":11.061},{"c":"r","p":1,"x":0.736,"y":11.048},{"c":"r","p":1,"x":0.742,"y":11.116},{"c":"r","p":1,"x":0.751,"y":11.088},{"c":"r","p":1,"x":0.756,"y":11.184},{"c":"r","p":1,"x":0.76,"y":11.116},{"c":"r","p":1,"x":0.764,"y":11.17},{"c":"r","p":1,"x":0.773,"y":11.116},

{"c":"g","p":2,"x":-0.18,"y":10.177},{"c":"g","p":2,"x":-0.169,"y":10.204},{"c":"g","p":2,"x":-0.16,"y":10.245},{"c":"g","p":2,"x":-0.153,"y":10.435},{"c":"g","p":2,"x":-0.147,"y":10.707},{"c":"g","p":2,"x":-0.138,"y":10.98},{"c":"g","p":2,"x":-0.136,"y":10.993},{"c":"g","p":2,"x":-0.129,"y":10.884},{"c":"g","p":2,"x":-0.124,"y":10.707},{"c":"g","p":2,"x":-0.116,"y":10.517},{"c":"g","p":2,"x":-0.109,"y":10.272},{"c":"g","p":2,"x":-0.102,"y":10.204},{"c":"g","p":2,"x":-0.093,"y":10.163},{"c":"g","p":2,"x":-0.084,"y":10.095},{"c":"g","p":2,"x":-0.076,"y":10.109},{"c":"g","p":2,"x":-0.064,"y":10.136},{"c":"g","p":2,"x":-0.058,"y":10.136},
{"c":"b","p":2,"x":-0.058,"y":10.15},{"c":"b","p":2,"x":-0.047,"y":10.136},{"c":"b","p":2,"x":-0.038,"y":10.177},{"c":"b","p":2,"x":-0.031,"y":10.313},{"c":"b","p":2,"x":-0.024,"y":10.612},{"c":"b","p":2,"x":-0.016,"y":10.884},{"c":"b","p":2,"x":-0.013,"y":10.912},{"c":"b","p":2,"x":-0.004,"y":10.789},{"c":"b","p":2,"x":0.002,"y":10.612},{"c":"b","p":2,"x":0.009,"y":10.476},{"c":"b","p":2,"x":0.018,"y":10.299},{"c":"b","p":2,"x":0.029,"y":10.136},{"c":"b","p":2,"x":0.042,"y":10.068},{"c":"b","p":2,"x":0.058,"y":10.054},
{"c":"c","p":2,"x":0.173,"y":10.07},{"c":"c","p":2,"x":0.184,"y":10.08},{"c":"c","p":2,"x":0.196,"y":10.1},{"c":"c","p":2,"x":0.203,"y":10.12},{"c":"c","p":2,"x":0.21,"y":10.09},{"c":"c","p":2,"x":0.218,"y":10.06},{"c":"c","p":2,"x":0.227,"y":10.07},{"c":"c","p":2,"x":0.24,"y":10.06},{"c":"c","p":2,"x":0.255,"y":10.05},{"c":"c","p":2,"x":0.269,"y":10.06},
{"c":"r","p":2,"x":0.28,"y":10.027},{"c":"r","p":2,"x":0.296,"y":10.041},{"c":"r","p":2,"x":0.313,"y":10.054},{"c":"r","p":2,"x":0.329,"y":10.068},{"c":"r","p":2,"x":0.34,"y":10.041},{"c":"r","p":2,"x":0.353,"y":10.027},{"c":"r","p":2,"x":0.367,"y":10.109},{"c":"r","p":2,"x":0.376,"y":10.054},{"c":"r","p":2,"x":0.382,"y":10.068},{"c":"r","p":2,"x":0.391,"y":10.027},{"c":"r","p":2,"x":0.407,"y":10.041},{"c":"r","p":2,"x":0.42,"y":10.054},{"c":"r","p":2,"x":0.431,"y":10.082},{"c":"r","p":2,"x":0.442,"y":10.122},{"c":"r","p":2,"x":0.449,"y":10.122},{"c":"r","p":2,"x":0.456,"y":10.095},{"c":"r","p":2,"x":0.464,"y":10.136},{"c":"r","p":2,"x":0.471,"y":10.068},{"c":"r","p":2,"x":0.478,"y":10.122},{"c":"r","p":2,"x":0.487,"y":10.177},{"c":"r","p":2,"x":0.496,"y":10.136},{"c":"r","p":2,"x":0.5,"y":10.204},{"c":"r","p":2,"x":0.507,"y":10.163},{"c":"r","p":2,"x":0.513,"y":10.272},{"c":"r","p":2,"x":0.518,"y":10.408},{"c":"r","p":2,"x":0.524,"y":10.313},{"c":"r","p":2,"x":0.531,"y":10.231},{"c":"r","p":2,"x":0.536,"y":10.299},{"c":"r","p":2,"x":0.54,"y":10.408},{"c":"r","p":2,"x":0.544,"y":10.381},{"c":"r","p":2,"x":0.551,"y":10.204},{"c":"r","p":2,"x":0.558,"y":10.163},{"c":"r","p":2,"x":0.564,"y":10.136},{"c":"r","p":2,"x":0.573,"y":10.163},{"c":"r","p":2,"x":0.58,"y":10.109},{"c":"r","p":2,"x":0.587,"y":10.136},{"c":"r","p":2,"x":0.596,"y":10.095},{"c":"r","p":2,"x":0.602,"y":10.109},{"c":"r","p":2,"x":0.609,"y":10.068},{"c":"r","p":2,"x":0.62,"y":10.027},{"c":"r","p":2,"x":0.636,"y":10.027},{"c":"r","p":2,"x":0.651,"y":10.027},{"c":"r","p":2,"x":0.664,"y":10.027},{"c":"r","p":2,"x":0.68,"y":10.027},{"c":"r","p":2,"x":0.691,"y":10.041},{"c":"r","p":2,"x":0.707,"y":10.027},{"c":"r","p":2,"x":0.724,"y":10.041},{"c":"r","p":2,"x":0.74,"y":10.041},{"c":"r","p":2,"x":0.753,"y":10.027},{"c":"r","p":2,"x":0.769,"y":10.054},

{"c":"g","p":3,"x":-0.18,"y":9.048},{"c":"g","p":3,"x":-0.169,"y":9.048},{"c":"g","p":3,"x":-0.158,"y":9.061},{"c":"g","p":3,"x":-0.149,"y":9.143},{"c":"g","p":3,"x":-0.142,"y":9.456},{"c":"g","p":3,"x":-0.136,"y":9.769},{"c":"g","p":3,"x":-0.127,"y":9.959},{"c":"g","p":3,"x":-0.124,"y":9.932},{"c":"g","p":3,"x":-0.118,"y":9.728},{"c":"g","p":3,"x":-0.109,"y":9.415},{"c":"g","p":3,"x":-0.102,"y":9.184},{"c":"g","p":3,"x":-0.091,"y":9.075},{"c":"g","p":3,"x":-0.08,"y":9.034},{"c":"g","p":3,"x":-0.064,"y":9.034},
{"c":"b","p":3,"x":-0.058,"y":9.034},{"c":"b","p":3,"x":-0.042,"y":9.061},{"c":"b","p":3,"x":-0.031,"y":9.116},{"c":"b","p":3,"x":-0.024,"y":9.224},{"c":"b","p":3,"x":-0.016,"y":9.456},{"c":"b","p":3,"x":-0.009,"y":9.823},{"c":"b","p":3,"x":-0.003,"y":10.0},{"c":"b","p":3,"x":0.013,"y":10.0},{"c":"b","p":3,"x":0.016,"y":9.823},{"c":"b","p":3,"x":0.02,"y":9.551},{"c":"b","p":3,"x":0.027,"y":9.279},{"c":"b","p":3,"x":0.036,"y":9.116},{"c":"b","p":3,"x":0.047,"y":9.048},{"c":"b","p":3,"x":0.058,"y":9.034},
{"c":"c","p":3,"x":0.173,"y":9.03},{"c":"c","p":3,"x":0.184,"y":9.05},{"c":"c","p":3,"x":0.195,"y":9.1},{"c":"c","p":3,"x":0.2,"y":9.08},{"c":"c","p":3,"x":0.209,"y":9.05},{"c":"c","p":3,"x":0.22,"y":9.06},{"c":"c","p":3,"x":0.235,"y":9.03},{"c":"c","p":3,"x":0.25,"y":9.04},{"c":"c","p":3,"x":0.269,"y":9.03},
{"c":"r","p":3,"x":0.28,"y":9.02},{"c":"r","p":3,"x":0.302,"y":9.02},{"c":"r","p":3,"x":0.324,"y":9.02},{"c":"r","p":3,"x":0.353,"y":9.02},{"c":"r","p":3,"x":0.369,"y":9.007},{"c":"r","p":3,"x":0.384,"y":9.02},{"c":"r","p":3,"x":0.407,"y":9.061},{"c":"r","p":3,"x":0.42,"y":9.02},{"c":"r","p":3,"x":0.44,"y":9.061},{"c":"r","p":3,"x":0.451,"y":9.02},{"c":"r","p":3,"x":0.462,"y":9.048},{"c":"r","p":3,"x":0.476,"y":9.048},{"c":"r","p":3,"x":0.487,"y":9.088},{"c":"r","p":3,"x":0.493,"y":9.17},{"c":"r","p":3,"x":0.5,"y":9.143},{"c":"r","p":3,"x":0.507,"y":9.143},{"c":"r","p":3,"x":0.511,"y":9.116},{"c":"r","p":3,"x":0.518,"y":9.279},{"c":"r","p":3,"x":0.522,"y":9.32},{"c":"r","p":3,"x":0.529,"y":9.429},{"c":"r","p":3,"x":0.531,"y":9.415},{"c":"r","p":3,"x":0.536,"y":9.252},{"c":"r","p":3,"x":0.54,"y":9.184},{"c":"r","p":3,"x":0.547,"y":9.143},{"c":"r","p":3,"x":0.553,"y":9.088},{"c":"r","p":3,"x":0.562,"y":9.061},{"c":"r","p":3,"x":0.576,"y":9.034},{"c":"r","p":3,"x":0.587,"y":9.048},{"c":"r","p":3,"x":0.598,"y":9.02},{"c":"r","p":3,"x":0.607,"y":9.034},{"c":"r","p":3,"x":0.618,"y":9.007},{"c":"r","p":3,"x":0.629,"y":9.007},{"c":"r","p":3,"x":0.651,"y":9.003},{"c":"r","p":3,"x":0.664,"y":9.007},{"c":"r","p":3,"x":0.68,"y":9.007},{"c":"r","p":3,"x":0.696,"y":9.007},{"c":"r","p":3,"x":0.709,"y":9.02},{"c":"r","p":3,"x":0.724,"y":9.007},{"c":"r","p":3,"x":0.74,"y":9.02},{"c":"r","p":3,"x":0.753,"y":9.007},{"c":"r","p":3,"x":0.769,"y":9.02},

{"c":"g","p":4,"x":-0.18,"y":8.122},{"c":"g","p":4,"x":-0.169,"y":8.122},{"c":"g","p":4,"x":-0.158,"y":8.163},{"c":"g","p":4,"x":-0.149,"y":8.3},{"c":"g","p":4,"x":-0.142,"y":8.531},{"c":"g","p":4,"x":-0.136,"y":8.68},{"c":"g","p":4,"x":-0.129,"y":8.721},{"c":"g","p":4,"x":-0.124,"y":8.667},{"c":"g","p":4,"x":-0.12,"y":8.476},{"c":"g","p":4,"x":-0.113,"y":8.3},{"c":"g","p":4,"x":-0.104,"y":8.163},{"c":"g","p":4,"x":-0.093,"y":8.122},{"c":"g","p":4,"x":-0.08,"y":8.109},{"c":"g","p":4,"x":-0.064,"y":8.082},{"c":"g","p":4,"x":-0.06,"y":8.068},
{"c":"b","p":4,"x":-0.06,"y":8.095},{"c":"b","p":4,"x":-0.047,"y":8.109},{"c":"b","p":4,"x":-0.031,"y":8.122},{"c":"b","p":4,"x":-0.02,"y":8.19},{"c":"b","p":4,"x":-0.013,"y":8.395},{"c":"b","p":4,"x":-0.004,"y":8.707},{"c":"b","p":4,"x":0,"y":8.952},{"c":"b","p":4,"x":0.002,"y":9.0},{"c":"b","p":4,"x":0.013,"y":9.0},{"c":"b","p":4,"x":0.016,"y":8.844},{"c":"b","p":4,"x":0.02,"y":8.531},{"c":"b","p":4,"x":0.027,"y":8.3},{"c":"b","p":4,"x":0.036,"y":8.136},{"c":"b","p":4,"x":0.047,"y":8.109},{"c":"b","p":4,"x":0.058,"y":8.109},
{"c":"c","p":4,"x":0.173,"y":8.07},{"c":"c","p":4,"x":0.182,"y":8.08},{"c":"c","p":4,"x":0.19,"y":8.12},{"c":"c","p":4,"x":0.2,"y":8.15},{"c":"c","p":4,"x":0.207,"y":8.14},{"c":"c","p":4,"x":0.215,"y":8.08},{"c":"c","p":4,"x":0.225,"y":8.05},{"c":"c","p":4,"x":0.24,"y":8.04},{"c":"c","p":4,"x":0.255,"y":8.05},{"c":"c","p":4,"x":0.269,"y":8.04},
{"c":"r","p":4,"x":0.291,"y":8.068},{"c":"r","p":4,"x":0.302,"y":8.027},{"c":"r","p":4,"x":0.313,"y":8.01},{"c":"r","p":4,"x":0.324,"y":8.054},{"c":"r","p":4,"x":0.336,"y":8.068},{"c":"r","p":4,"x":0.347,"y":8.054},{"c":"r","p":4,"x":0.353,"y":8.082},{"c":"r","p":4,"x":0.364,"y":8.054},{"c":"r","p":4,"x":0.373,"y":8.068},{"c":"r","p":4,"x":0.384,"y":8.027},{"c":"r","p":4,"x":0.396,"y":8.068},{"c":"r","p":4,"x":0.407,"y":8.054},{"c":"r","p":4,"x":0.418,"y":8.027},{"c":"r","p":4,"x":0.427,"y":8.082},{"c":"r","p":4,"x":0.438,"y":8.054},{"c":"r","p":4,"x":0.447,"y":8.068},{"c":"r","p":4,"x":0.458,"y":8.054},{"c":"r","p":4,"x":0.464,"y":8.136},{"c":"r","p":4,"x":0.473,"y":8.163},{"c":"r","p":4,"x":0.484,"y":8.259},{"c":"r","p":4,"x":0.491,"y":8.19},{"c":"r","p":4,"x":0.5,"y":8.272},{"c":"r","p":4,"x":0.507,"y":8.136},{"c":"r","p":4,"x":0.513,"y":8.204},{"c":"r","p":4,"x":0.52,"y":8.3},{"c":"r","p":4,"x":0.529,"y":8.272},{"c":"r","p":4,"x":0.536,"y":8.367},{"c":"r","p":4,"x":0.54,"y":8.395},{"c":"r","p":4,"x":0.544,"y":8.544},{"c":"r","p":4,"x":0.551,"y":8.408},{"c":"r","p":4,"x":0.556,"y":8.204},{"c":"r","p":4,"x":0.564,"y":8.218},{"c":"r","p":4,"x":0.573,"y":8.163},{"c":"r","p":4,"x":0.58,"y":8.3},{"c":"r","p":4,"x":0.587,"y":8.19},{"c":"r","p":4,"x":0.596,"y":8.231},{"c":"r","p":4,"x":0.602,"y":8.122},{"c":"r","p":4,"x":0.609,"y":8.054},{"c":"r","p":4,"x":0.62,"y":8.027},{"c":"r","p":4,"x":0.636,"y":8.014},{"c":"r","p":4,"x":0.647,"y":8.054},{"c":"r","p":4,"x":0.658,"y":8.068},{"c":"r","p":4,"x":0.664,"y":8.027},{"c":"r","p":4,"x":0.68,"y":8.014},{"c":"r","p":4,"x":0.696,"y":8.014},{"c":"r","p":4,"x":0.709,"y":8.027},{"c":"r","p":4,"x":0.724,"y":8.122},{"c":"r","p":4,"x":0.733,"y":8.068},{"c":"r","p":4,"x":0.742,"y":8.027},{"c":"r","p":4,"x":0.753,"y":8.095},{"c":"r","p":4,"x":0.764,"y":8.054},{"c":"r","p":4,"x":0.773,"y":8.068}
  ],
  "plus": [
{"x":0.329,"y":11.51},{"x":0.393,"y":11.51},{"x":0.458,"y":11.51},{"x":0.522,"y":11.51},{"x":0.587,"y":11.51},{"x":0.651,"y":11.51},{"x":0.713,"y":11.51},{"x":0.769,"y":11.51},
{"x":0.338,"y":10.49},{"x":0.393,"y":10.49},{"x":0.447,"y":10.49},{"x":0.5,"y":10.49},{"x":0.556,"y":10.49},{"x":0.611,"y":10.49},{"x":0.664,"y":10.49},{"x":0.718,"y":10.49},{"x":0.76,"y":10.49},
{"x":0.313,"y":9.483},{"x":0.36,"y":9.483},{"x":0.404,"y":9.483},{"x":0.449,"y":9.483},{"x":0.496,"y":9.483},{"x":0.54,"y":9.483},{"x":0.587,"y":9.483},{"x":0.631,"y":9.483},{"x":0.678,"y":9.483},{"x":0.72,"y":9.483},{"x":0.758,"y":9.483},
{"x":0.311,"y":8.476},{"x":0.349,"y":8.476},{"x":0.384,"y":8.476},{"x":0.42,"y":8.476},{"x":0.458,"y":8.476},{"x":0.496,"y":8.476},{"x":0.533,"y":8.476},{"x":0.573,"y":8.476},{"x":0.609,"y":8.476},{"x":0.647,"y":8.476},{"x":0.684,"y":8.476},{"x":0.72,"y":8.476},{"x":0.751,"y":8.476}
  ],
  "bounds": [{"y":9},{"y":10},{"y":11}]
 },
 "layer": [
  {
   "data": {"name": "gray"},
   "mark": {"type": "line", "stroke": "#b2b2b2", "strokeWidth": 0.8, "clip": true},
   "encoding": {
    "x": {"field": "x", "type": "quantitative", "scale": {"domain": [-0.2, 0.8], "nice": false, "zero": false},
      "axis": {"orient": "bottom", "values": [-0.2,0,0.2,0.4,0.6,0.8], "format": ".1f", "tickSize": -8, "labelPadding": 18, "labelFlush": false}},
    "y": {"field": "y", "type": "quantitative", "scale": {"domain": [8, 12], "nice": false, "zero": false},
      "axis": {"orient": "left", "values": [8,9,10,11,12], "format": "d", "tickSize": -4, "labelPadding": 8, "labelFlush": false,
        "labelBaseline": {"condition": {"test": "datum.value > 11.9", "value": "top"}, "value": "middle"}}},
    "detail": {"field": "p"}
   }
  },
  {
   "data": {"name": "curves"},
   "mark": {"type": "line", "strokeWidth": 1.4, "clip": true},
   "encoding": {
    "x": {"field": "x", "type": "quantitative",
      "axis": {"orient": "bottom", "values": [-0.15,-0.1,-0.05,0.05,0.1,0.15,0.25,0.3,0.35,0.45,0.5,0.55,0.65,0.7,0.75], "labels": false, "tickSize": -4}},
    "y": {"field": "y", "type": "quantitative",
      "axis": {"orient": "left", "values": [8.1,8.2,8.3,8.4,8.5,8.6,8.7,8.8,8.9,9.1,9.2,9.3,9.4,9.5,9.6,9.7,9.8,9.9,10.1,10.2,10.3,10.4,10.5,10.6,10.7,10.8,10.9,11.1,11.2,11.3,11.4,11.5,11.6,11.7,11.8,11.9], "labels": false, "tickSize": -4}},
    "color": {"field": "c", "type": "nominal", "scale": {"domain": ["g","b","c","r"], "range": ["#33ee33","#1f2fe0","#40e6c8","#ff3a1e"]}, "legend": null},
    "detail": {"field": "p"}
   }
  },
  {
   "data": {"name": "plus"},
   "mark": {"type": "point", "shape": "M-1,0L1,0M0,-1L0,1", "size": 36, "stroke": "#333", "strokeWidth": 1, "filled": false, "opacity": 1},
   "encoding": {
    "x": {"field": "x", "type": "quantitative",
      "axis": {"orient": "top", "values": [-0.2,-0.15,-0.1,-0.05,0,0.05,0.1,0.15,0.2,0.25,0.3,0.35,0.4,0.45,0.5,0.55,0.6,0.65,0.7,0.75,0.8], "labels": false,
        "tickSize": {"condition": {"test": "abs(datum.value*5-round(datum.value*5))<0.001", "value": -8}, "value": -4}}},
    "y": {"field": "y", "type": "quantitative", "axis": null}
   }
  },
  {
   "data": {"name": "bounds"},
   "mark": {"type": "rule", "stroke": "#222", "strokeWidth": 1},
   "encoding": {
    "y": {"field": "y", "type": "quantitative",
      "axis": {"orient": "right", "values": [8,8.1,8.2,8.3,8.4,8.5,8.6,8.7,8.8,8.9,9,9.1,9.2,9.3,9.4,9.5,9.6,9.7,9.8,9.9,10,10.1,10.2,10.3,10.4,10.5,10.6,10.7,10.8,10.9,11,11.1,11.2,11.3,11.4,11.5,11.6,11.7,11.8,11.9,12], "labels": false, "tickSize": -4}}
   }
  }
 ],
 "resolve": {"axis": {"x": "independent", "y": "independent"}}
}
